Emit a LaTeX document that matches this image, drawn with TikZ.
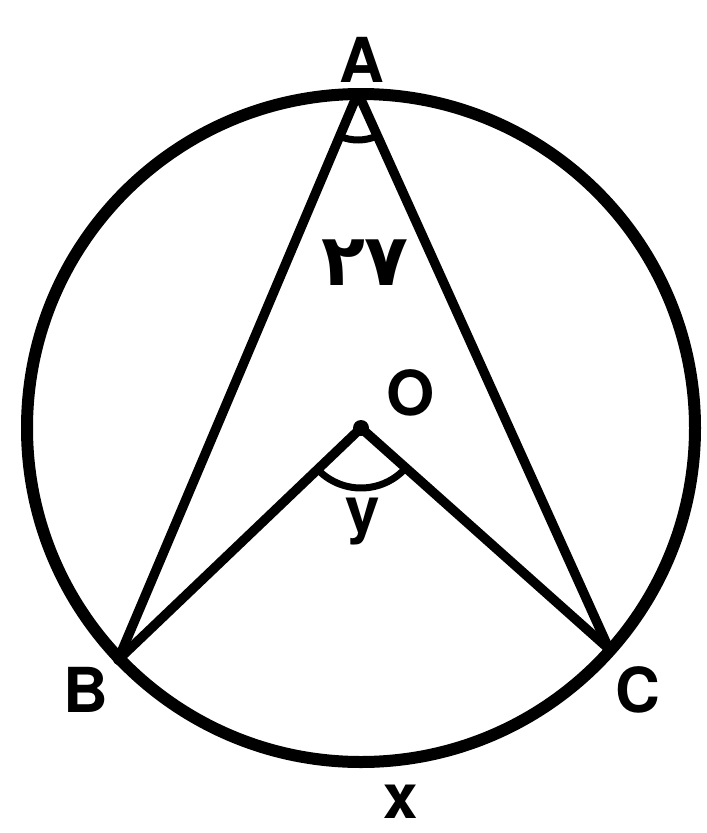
\documentclass[tikz,border=0pt]{standalone}
\usepackage{fontspec}
\setmainfont{TeX Gyre Heros}
\newfontfamily\fafont{DejaVu Sans}
\usetikzlibrary{angles}
\tikzset{
  lbl/.style={inner sep=0pt, font=\fontsize{62}{62}\selectfont\bfseries},
  seg/.style={line width=9.5pt, line cap=round, line join=round},
  ang/.style={draw, line width=7pt},
}
\begin{document}
\begin{tikzpicture}[x=1pt,y=-1pt]
\useasboundingbox (0,0) rectangle (707,833);
\coordinate (O) at (361,428);
\coordinate (A) at (358,93);
\coordinate (B) at (118,660);
\coordinate (C) at (609,649);
\draw[line width=12pt] (O) circle[radius=334];
\draw[seg] (B) -- (A) -- (C);
\draw[seg] (B) -- (O) -- (C);
\fill (O) circle[radius=8];
\pic[ang, angle radius=47pt] {angle=B--A--C};
\pic[ang, angle radius=60pt] {angle=B--O--C};
\node[lbl] (lA) at (362,60) {A};
\node[lbl] (lO) at (411,393) {O};
\node[lbl] (lB) at (86,690) {B};
\node[lbl] (lC) at (638,690) {C};
\node[lbl] (lx) at (401,802) {x};
\node[lbl] (ly) at (363,522) {y};
\node[inner sep=0pt, font=\fontsize{72}{72}\selectfont\fafont\bfseries] (l27) at (365,263) {۲۷};
\end{tikzpicture}
\end{document}
